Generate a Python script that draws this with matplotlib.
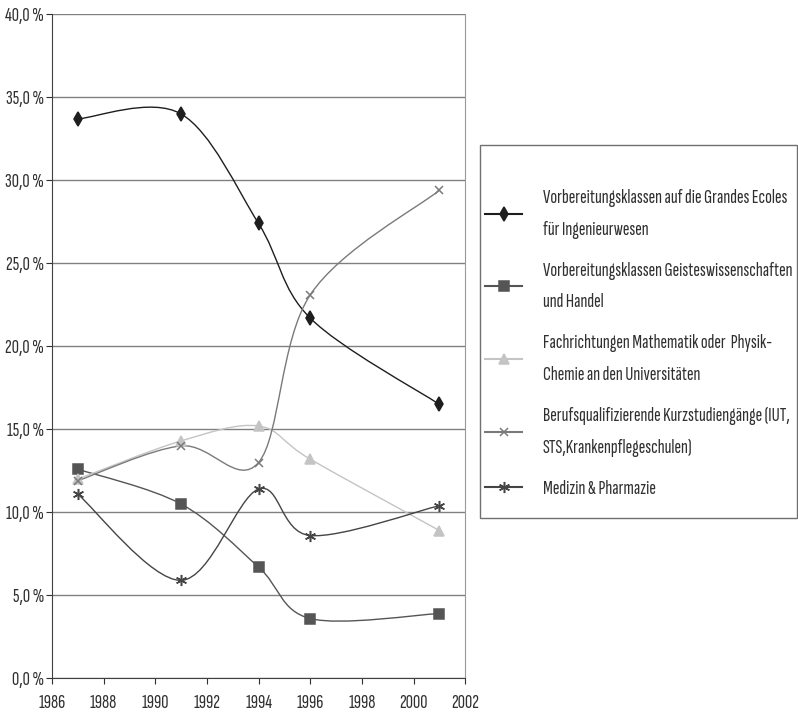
import matplotlib
matplotlib.use('Agg')
import matplotlib.pyplot as plt
from matplotlib.path import Path
from matplotlib.patches import PathPatch, Rectangle
from matplotlib.lines import Line2D
from matplotlib.ticker import FuncFormatter, MultipleLocator

plt.rcParams['font.family'] = ['Sofia Sans Extra Condensed', 'DejaVu Sans']

years = [1987, 1991, 1994, 1996, 2001]

ingenieur = [33.7, 34.0, 27.4, 21.7, 16.5]
geistes = [12.6, 10.5, 6.7, 3.6, 3.9]
mathe = [12.0, 14.3, 15.2, 13.2, 8.9]
kurz = [11.9, 14.0, 13.0, 23.1, 29.4]
medizin = [11.1, 5.9, 11.4, 8.6, 10.4]

labels = [
    "Vorbereitungsklassen auf die Grandes Ecoles\nfür Ingenieurwesen",
    "Vorbereitungsklassen Geisteswissenschaften\nund Handel",
    "Fachrichtungen Mathematik oder  Physik-\nChemie an den Universitäten",
    "Berufsqualifizierende Kurzstudiengänge (IUT,\nSTS,Krankenpflegeschulen)",
    "Medizin & Pharmazie",
]

styles = [
    {'color': '#1e1e1e', 'marker': 'd', 'ms': 7},
    {'color': '#555555', 'marker': 's', 'ms': 7},
    {'color': '#c4c4c4', 'marker': '^', 'ms': 7},
    {'color': '#7a7a7a', 'marker': 'x', 'ms': 6},
    {'color': '#454545', 'marker': (6, 2, 0), 'ms': 8},
]


def smooth_path(xs, ys):
    # Excel-like smoothed line: cubic bezier through the points
    pts = list(zip(xs, ys))
    n = len(pts)
    verts = [pts[0]]
    codes = [Path.MOVETO]
    for i in range(n - 1):
        p0 = pts[i - 1] if i > 0 else pts[i]
        p1 = pts[i]
        p2 = pts[i + 1]
        p3 = pts[i + 2] if i + 2 < n else pts[i + 1]
        c1 = (p1[0] + (p2[0] - p0[0]) / 6, p1[1] + (p2[1] - p0[1]) / 6)
        c2 = (p2[0] - (p3[0] - p1[0]) / 6, p2[1] - (p3[1] - p1[1]) / 6)
        verts += [c1, c2, p2]
        codes += [Path.CURVE4] * 3
    return Path(verts, codes)


fig = plt.figure(figsize=(7.98, 7.17), dpi=100)
ax = fig.add_axes([0.065, 0.054, 0.518, 0.926])

series = [ingenieur, geistes, mathe, kurz, medizin]
handles = []
for vals, st in zip(series, styles):
    patch = PathPatch(smooth_path(years, vals), facecolor='none',
                      edgecolor=st['color'], linewidth=1.0, zorder=3)
    ax.add_patch(patch)
    ax.plot(years, vals, linestyle='none', marker=st['marker'],
            markersize=st['ms'], color=st['color'],
            markeredgewidth=1.1, zorder=4)
    handles.append(Line2D([], [], color=st['color'], linewidth=1.5,
                          marker=st['marker'], markersize=st['ms'],
                          markeredgewidth=1.1))

ax.set_xlim(1986, 2002)
ax.set_ylim(0, 40)
ax.xaxis.set_major_locator(MultipleLocator(2))
ax.yaxis.set_major_locator(MultipleLocator(5))
ax.yaxis.set_major_formatter(FuncFormatter(lambda v, p: f"{v:.1f} %".replace('.', ',')))
ax.grid(True, axis='y', color='#808080', linewidth=1.0, zorder=1)
ax.set_axisbelow(True)

ax.spines['top'].set_visible(False)
ax.spines['right'].set_color('#999999')
ax.spines['left'].set_color('#404040')
ax.spines['bottom'].set_color('#404040')
ax.tick_params(axis='both', labelsize=14.5, colors='#303030', length=4,
               direction='out')
ax.tick_params(axis='x', pad=7)
ax.tick_params(axis='y', pad=1.5)
for lab in ax.get_xticklabels() + ax.get_yticklabels():
    lab.set_fontweight('light')

# legend frame drawn by hand, entries placed by the legend
fig.patches.append(Rectangle((0.602, 0.278), 0.397, 0.520,
                             transform=fig.transFigure, facecolor='none',
                             edgecolor='#707070', linewidth=1.0))
leg = fig.legend(handles, labels, loc='upper left',
                 bbox_to_anchor=(0.608, 0.736),
                 prop={'size': 14.5, 'weight': 'light'},
                 frameon=False, handlelength=1.85,
                 handletextpad=1.0, labelspacing=1.15, borderpad=0.0,
                 borderaxespad=0.0)
for t in leg.get_texts():
    t.set_color('#303030')
    t.set_linespacing(1.95)

fig.savefig('out.png', dpi=100, facecolor='white')
